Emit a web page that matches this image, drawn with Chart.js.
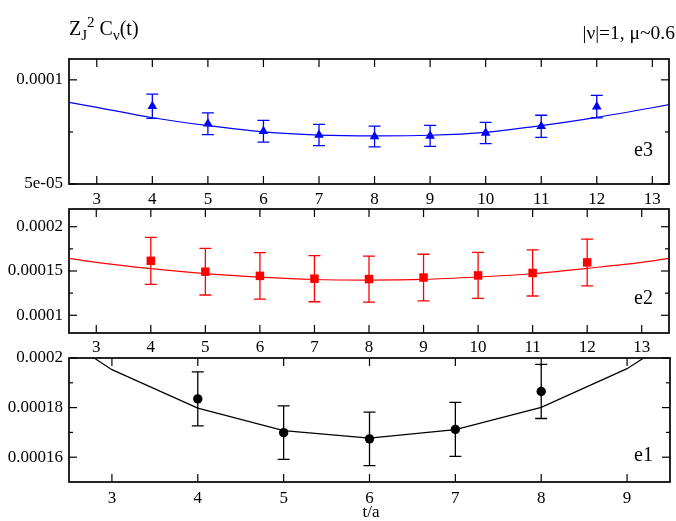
<!DOCTYPE html>
<html><head><meta charset="utf-8">
<script src="https://cdn.jsdelivr.net/npm/chart.js@4.4.1/dist/chart.umd.min.js"></script>
<style>
html,body{margin:0;padding:0;background:#fff;}
#wrap{position:relative;width:676px;height:521px;overflow:hidden;font-family:"Liberation Serif","DejaVu Serif",serif;color:#000;}
canvas{position:absolute;left:0;top:0;}
.txt{position:absolute;white-space:nowrap;line-height:1;}
.sb{font-size:15px;position:relative;top:5px;}
.sp{font-size:15px;position:relative;top:-8px;}
</style></head><body>
<div id="wrap">
<canvas id="c1" width="676" height="521" style="width:676px;height:521px"></canvas>
<canvas id="c2" width="676" height="521" style="width:676px;height:521px"></canvas>
<canvas id="c3" width="676" height="521" style="width:676px;height:521px"></canvas>
<div class="txt" style="left:69px;top:18px;font-size:20px;">Z<span class="sb">J</span><span class="sp">2</span> C<span class="sb">ν</span>(t)</div>
<div class="txt" style="right:1px;top:23px;font-size:19.5px;">|ν|=1, μ~0.6</div>
<div class="txt" style="right:23px;top:139px;font-size:20px;">e3</div>
<div class="txt" style="right:23px;top:287px;font-size:20px;">e2</div>
<div class="txt" style="right:23px;top:444px;font-size:20px;">e1</div>
<div class="txt" style="left:371px;top:503px;font-size:17px;transform:translateX(-50%);">t/a</div>
</div>
<script>
// ---- data ----
const e3T = [4, 5, 6, 7, 8, 9, 10, 11, 12];
const e3Val = [8.73e-5, 7.89e-5, 7.53e-5, 7.35e-5, 7.28e-5, 7.31e-5, 7.45e-5, 7.77e-5, 8.71e-5];
const e3Err = [5.8e-6, 5.2e-6, 5.2e-6, 5.1e-6, 5.0e-6, 5.0e-6, 5.1e-6, 5.3e-6, 5.4e-6];
const e3FitT = [2, 3, 4, 5, 6, 7, 8, 9, 10, 11, 12, 13, 14];
const e3FitVal = [9.15e-5, 8.68e-5, 8.18e-5, 7.80e-5, 7.50e-5, 7.35e-5, 7.31e-5, 7.34e-5, 7.48e-5, 7.80e-5, 8.20e-5, 8.66e-5, 9.15e-5];

const e2T = [4, 5, 6, 7, 8, 9, 10, 11, 12];
const e2Val = [1.615e-4, 1.492e-4, 1.445e-4, 1.413e-4, 1.409e-4, 1.426e-4, 1.450e-4, 1.478e-4, 1.597e-4];
const e2Err = [2.65e-5, 2.63e-5, 2.63e-5, 2.6e-5, 2.6e-5, 2.63e-5, 2.6e-5, 2.6e-5, 2.64e-5];
const e2FitT = [2, 3, 4, 5, 6, 7, 8, 9, 10, 11, 12, 13, 14];
const e2FitVal = [1.69e-4, 1.597e-4, 1.526e-4, 1.471e-4, 1.431e-4, 1.404e-4, 1.398e-4, 1.405e-4, 1.432e-4, 1.469e-4, 1.530e-4, 1.597e-4, 1.69e-4];

const e1T = [4, 5, 6, 7, 8];
const e1Val = [1.835e-4, 1.699e-4, 1.674e-4, 1.712e-4, 1.865e-4];
const e1Err = [1.09e-5, 1.08e-5, 1.08e-5, 1.09e-5, 1.09e-5];
const e1FitT = [2, 3, 4, 5, 6, 7, 8, 9, 10];
const e1FitVal = [2.18e-4, 1.953e-4, 1.798e-4, 1.707e-4, 1.677e-4, 1.711e-4, 1.801e-4, 1.957e-4, 2.18e-4];

// tick values and labels
const xTicksWide = [3, 4, 5, 6, 7, 8, 9, 10, 11, 12, 13];
const xTicksNarrow = [3, 4, 5, 6, 7, 8, 9];
const e3YTicks = [5e-5, 7.5e-5, 1e-4];
const e3YLabels = ['5e-05', '', '0.0001'];
const e2YTicks = [1e-4, 1.25e-4, 1.5e-4, 1.75e-4, 2e-4];
const e2YLabels = ['0.0001', '', '0.00015', '', '0.0002'];
const e1YTicks = [1.6e-4, 1.7e-4, 1.8e-4, 1.9e-4, 2e-4];
const e1YLabels = ['0.00016', '', '0.00018', '', '0.0002'];

// ---- plugins ----
const frameTicks = {
  id: 'frameTicks',
  afterDraw(chart) {
    const {ctx, chartArea: a, scales: {x, y}} = chart;
    ctx.save();
    ctx.strokeStyle = '#000';
    ctx.lineWidth = 1.2;
    const ln = (x1, y1, x2, y2) => { ctx.beginPath(); ctx.moveTo(x1, y1); ctx.lineTo(x2, y2); ctx.stroke(); };
    x.ticks.forEach(t => {
      const px = x.getPixelForValue(t.value);
      ln(px, a.bottom, px, a.bottom - 8);
      ln(px, a.top, px, a.top + 8);
    });
    y.ticks.forEach(t => {
      const py = y.getPixelForValue(t.value);
      const len = t.label ? 8 : 4;
      ln(a.left, py, a.left + len, py);
      ln(a.right, py, a.right - len, py);
    });
    ctx.lineWidth = 1.7;
    ctx.strokeRect(a.left, a.top, a.right - a.left, a.bottom - a.top);
    ctx.restore();
  }
};
const errorBars = {
  id: 'errorBars',
  beforeDatasetsDraw(chart) {
    const {ctx, chartArea: a, scales: {x, y}} = chart;
    ctx.save();
    ctx.beginPath();
    ctx.rect(a.left, a.top, a.right - a.left, a.bottom - a.top);
    ctx.clip();
    chart.data.datasets.forEach(ds => {
      if (!ds.errors) return;
      ctx.strokeStyle = ds.borderColor;
      ctx.lineWidth = 1.3;
      ds.data.forEach((p, i) => {
        const px = x.getPixelForValue(p.x);
        const top = y.getPixelForValue(p.y + ds.errors[i]);
        const bot = y.getPixelForValue(p.y - ds.errors[i]);
        ctx.beginPath();
        ctx.moveTo(px, top); ctx.lineTo(px, bot);
        ctx.moveTo(px - 6, top); ctx.lineTo(px + 6, top);
        ctx.moveTo(px - 6, bot); ctx.lineTo(px + 6, bot);
        ctx.stroke();
      });
    });
    ctx.restore();
  }
};

const tickFont = {family: '"Liberation Serif", serif', size: 17};

function panel(id, o) {
  const pts = o.t.map((t, i) => ({x: t, y: o.val[i]}));
  const fit = o.fitT.map((t, i) => ({x: t, y: o.fitVal[i]}));
  return new Chart(document.getElementById(id), {
    type: 'scatter',
    data: {datasets: [
      {data: pts, showLine: false, pointStyle: o.style, pointRadius: o.radius,
       backgroundColor: o.color, borderColor: o.color, borderWidth: 0, errors: o.err},
      {data: fit, showLine: true, pointRadius: 0, borderColor: o.color, borderWidth: 1.2,
       tension: o.tension, fill: false}
    ]},
    options: {
      responsive: false, animation: false, events: [],
      layout: {padding: o.pad},
      plugins: {legend: {display: false}, tooltip: {enabled: false}},
      scales: {
        x: {type: 'linear', min: o.xmin, max: o.xmax,
            grid: {display: false, drawTicks: false}, border: {display: false},
            afterBuildTicks: s => { s.ticks = o.xTicks.map(v => ({value: v})); },
            afterFit: s => { s.height = 30; },
            ticks: {font: tickFont, color: '#000', padding: o.xpad, maxRotation: 0, autoSkip: false,
                    callback: v => String(v)}},
        y: {type: 'linear', min: o.ymin, max: o.ymax,
            grid: {display: false, drawTicks: false}, border: {display: false},
            afterBuildTicks: s => { s.ticks = o.yTicks.map(v => ({value: v})); },
            afterFit: s => { s.width = 69; },
            ticks: {font: tickFont, color: '#000', padding: 6, autoSkip: false,
                    callback: (v, i) => o.yLabels[i]}}
      }
    },
    plugins: [errorBars, frameTicks]
  });
}

panel('c1', {t: e3T, val: e3Val, err: e3Err, fitT: e3FitT, fitVal: e3FitVal,
  color: '#0000ff', style: 'triangle', radius: 5.6, tension: 0.3,
  xmin: 2.5, xmax: 13.3, ymin: 5e-5, ymax: 1.1e-4, xTicks: xTicksWide,
  yTicks: e3YTicks, yLabels: e3YLabels, xpad: 5,
  pad: {top: 59, right: 7, bottom: 307, left: 0}});
panel('c2', {t: e2T, val: e2Val, err: e2Err, fitT: e2FitT, fitVal: e2FitVal,
  color: '#ff0000', style: 'rect', radius: 6, tension: 0.3,
  xmin: 2.5, xmax: 13.5, ymin: 8e-5, ymax: 2.2e-4, xTicks: xTicksWide,
  yTicks: e2YTicks, yLabels: e2YLabels, xpad: 4,
  pad: {top: 209, right: 7, bottom: 158, left: 0}});
panel('c3', {t: e1T, val: e1Val, err: e1Err, fitT: e1FitT, fitVal: e1FitVal,
  color: '#000000', style: 'circle', radius: 4.7, tension: 0,
  xmin: 2.5, xmax: 9.5, ymin: 1.5e-4, ymax: 2e-4, xTicks: xTicksNarrow,
  yTicks: e1YTicks, yLabels: e1YLabels, xpad: 6,
  pad: {top: 358, right: 6, bottom: 9, left: 0}});
</script>
</body></html>
